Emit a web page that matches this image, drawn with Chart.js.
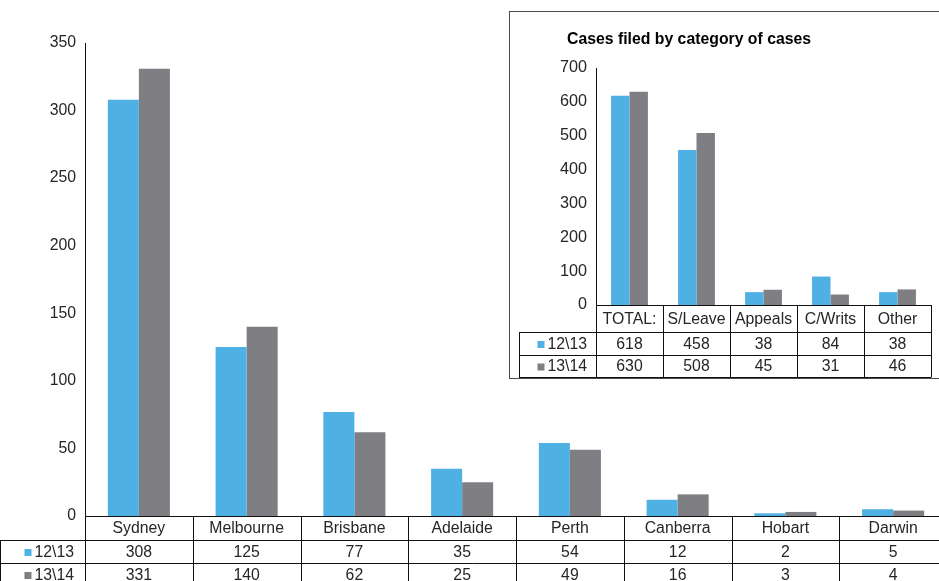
<!DOCTYPE html>
<html>
<head>
<meta charset="utf-8">
<script src="https://cdn.jsdelivr.net/npm/chart.js@4/dist/chart.umd.min.js"></script>
<style>
  html, body { margin: 0; padding: 0; background: #fff; }
  body { width: 939px; height: 581px; overflow: hidden; position: relative; }
  #mainWrap { position: absolute; left: 0; top: 0; }
  #insetWrap { position: absolute; left: 509px; top: 11px; width: 440px; height: 366px;
               border: 1px solid #4a4a4a; background: #fff; }
  #insetWrap canvas { position: absolute; left: 0; top: 0; }
</style>
</head>
<body>
<div id="mainWrap"><canvas id="mainChart" width="950" height="581"></canvas></div>
<div id="insetWrap"><canvas id="insetChart" width="430" height="366"></canvas></div>
<script>
// Cases filed by registry
const cities = ['Sydney', 'Melbourne', 'Brisbane', 'Adelaide', 'Perth', 'Canberra', 'Hobart', 'Darwin'];
const cities1213 = [308, 125, 77, 35, 54, 12, 2, 5];
const cities1314 = [331, 140, 62, 25, 49, 16, 3, 4];

// Cases filed by category of cases
const categories = ['TOTAL:', 'S/Leave', 'Appeals', 'C/Writs', 'Other'];
const cat1213 = [618, 458, 38, 84, 38];
const cat1314 = [630, 508, 45, 31, 46];

const seriesNames = ['12\\13', '13\\14'];
const insetTitle = 'Cases filed by category of cases';

const BLUE = '#4fb0e4';
const GREY = '#7f7e83';
const TEXT = '#262626';
const FONT = '"Liberation Sans", Arial, Helvetica, sans-serif';

// Draws the data table under the bars, aligned to the category scale
function dataTablePlugin(cfg) {
  return {
    id: 'dataTable',
    afterDraw(chart) {
      const ctx = chart.ctx;
      const area = chart.chartArea;
      const xs = chart.scales.x;
      const n = cfg.labels.length;
      const colW = (xs.right - xs.left) / n;
      const y0 = Math.round(area.bottom);
      const y1 = y0 + cfg.heights[0];
      const y2 = y1 + cfg.heights[1];
      const y3 = y2 + cfg.heights[2];
      ctx.save();
      ctx.strokeStyle = '#111';
      ctx.lineWidth = 1;
      ctx.beginPath();
      // axis line / top of category row
      ctx.moveTo(xs.left, y0 + 0.5); ctx.lineTo(xs.right, y0 + 0.5);
      // row separators
      [y1, y2].forEach(y => { ctx.moveTo(cfg.labelLeft, y + 0.5); ctx.lineTo(xs.right, y + 0.5); });
      if (cfg.closeBottom) { ctx.moveTo(cfg.labelLeft, y3 + 0.5); ctx.lineTo(xs.right + 0.5, y3 + 0.5); }
      // column separators
      for (let i = 0; i <= n; i++) {
        const bx = Math.round(xs.left + i * colW) + 0.5;
        ctx.moveTo(bx, y0); ctx.lineTo(bx, y3);
      }
      // left edge of legend column
      ctx.moveTo(cfg.labelLeft + 0.5, y1); ctx.lineTo(cfg.labelLeft + 0.5, y3);
      ctx.stroke();

      ctx.fillStyle = TEXT;
      ctx.font = cfg.font;
      ctx.textAlign = 'center';
      ctx.textBaseline = 'middle';
      const rows = [cfg.labels, cfg.series[0].values, cfg.series[1].values];
      const mids = [(y0 + y1) / 2 + 1, (y1 + y2) / 2 + 1, (y2 + y3) / 2 + 1];
      rows.forEach((row, r) => {
        row.forEach((v, i) => {
          const cx = xs.left + (i + 0.5) * colW;
          ctx.fillText(String(v), cx, mids[r]);
        });
      });
      // legend cells
      ctx.textAlign = 'right';
      cfg.series.forEach((s, k) => {
        const my = mids[k + 1];
        const tx = xs.left - cfg.legendPad;
        const tw = ctx.measureText(s.name).width;
        ctx.fillStyle = TEXT;
        ctx.fillText(s.name, tx, my);
        ctx.fillStyle = s.color;
        ctx.fillRect(tx - tw - 3 - cfg.box, my - cfg.box / 2, cfg.box, cfg.box);
      });

      if (cfg.title) {
        ctx.fillStyle = '#000';
        ctx.font = cfg.title.font;
        ctx.textAlign = 'left';
        ctx.textBaseline = 'middle';
        ctx.fillText(cfg.title.text, cfg.title.x, cfg.title.y);
      }
      ctx.restore();
    }
  };
}

function yScale(max, step, width, size) {
  return {
    min: 0, max: max,
    ticks: { stepSize: step, color: TEXT, font: { family: FONT, size: size }, padding: 9 },
    grid: { display: false, drawTicks: false },
    border: { display: true, color: '#111', width: 1 },
    afterFit(scale) { scale.width = width; }
  };
}

Chart.defaults.font.family = FONT;

new Chart(document.getElementById('mainChart'), {
  type: 'bar',
  data: {
    labels: cities,
    datasets: [
      { label: seriesNames[0], data: cities1213, backgroundColor: BLUE },
      { label: seriesNames[1], data: cities1314, backgroundColor: GREY }
    ]
  },
  options: {
    responsive: false,
    animation: false,
    datasets: { bar: { categoryPercentage: 0.576, barPercentage: 1.0 } },
    layout: { padding: { top: 43, bottom: 65, left: 0, right: 3 } },
    plugins: { legend: { display: false }, tooltip: { enabled: false } },
    scales: {
      x: { display: false },
      y: yScale(350, 50, 85, 15.8)
    }
  },
  plugins: [dataTablePlugin({
    labels: cities,
    series: [
      { name: seriesNames[0], values: cities1213, color: BLUE },
      { name: seriesNames[1], values: cities1314, color: GREY }
    ],
    heights: [24, 23, 23],
    labelLeft: 0,
    legendPad: 11,
    box: 7,
    closeBottom: false,
    font: '15.8px ' + FONT
  })]
});

new Chart(document.getElementById('insetChart'), {
  type: 'bar',
  data: {
    labels: categories,
    datasets: [
      { label: seriesNames[0], data: cat1213, backgroundColor: BLUE },
      { label: seriesNames[1], data: cat1314, backgroundColor: GREY }
    ]
  },
  options: {
    responsive: false,
    animation: false,
    datasets: { bar: { categoryPercentage: 0.55, barPercentage: 1.0 } },
    layout: { padding: { top: 56, bottom: 73, left: 0, right: 9 } },
    plugins: { legend: { display: false }, tooltip: { enabled: false } },
    scales: {
      x: { display: false },
      y: yScale(700, 100, 86, 16.2)
    }
  },
  plugins: [dataTablePlugin({
    labels: categories,
    series: [
      { name: seriesNames[0], values: cat1213, color: BLUE },
      { name: seriesNames[1], values: cat1314, color: GREY }
    ],
    heights: [27, 23, 22],
    labelLeft: 9,
    legendPad: 9,
    box: 7,
    closeBottom: true,
    font: '15.8px ' + FONT,
    title: { text: insetTitle, font: 'bold 15.8px ' + FONT, x: 57, y: 28 }
  })]
});
</script>
</body>
</html>
